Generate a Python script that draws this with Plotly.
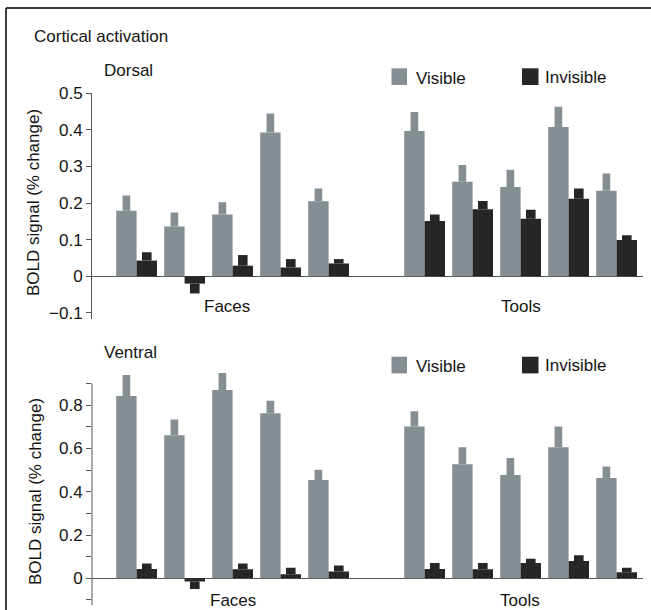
import plotly.graph_objects as go

# ---------------- data ----------------
groups = ["Faces", "Tools"]
subjects = ["S1", "S2", "S3", "S4", "S5"]
series_names = ["Visible", "Invisible"]

dorsal_faces_visible = [0.179, 0.136, 0.169, 0.393, 0.205]
dorsal_faces_visible_err = [0.042, 0.038, 0.033, 0.052, 0.035]
dorsal_faces_invisible = [0.043, -0.020, 0.029, 0.024, 0.035]
dorsal_faces_invisible_err = [0.023, 0.027, 0.029, 0.023, 0.012]
dorsal_tools_visible = [0.397, 0.258, 0.244, 0.408, 0.234]
dorsal_tools_visible_err = [0.052, 0.046, 0.047, 0.055, 0.047]
dorsal_tools_invisible = [0.151, 0.183, 0.157, 0.212, 0.099]
dorsal_tools_invisible_err = [0.018, 0.023, 0.025, 0.028, 0.013]

ventral_faces_visible = [0.842, 0.661, 0.870, 0.763, 0.454]
ventral_faces_visible_err = [0.097, 0.073, 0.078, 0.057, 0.048]
ventral_faces_invisible = [0.043, -0.015, 0.042, 0.019, 0.032]
ventral_faces_invisible_err = [0.025, 0.034, 0.026, 0.030, 0.027]
ventral_tools_visible = [0.701, 0.527, 0.477, 0.605, 0.463]
ventral_tools_visible_err = [0.071, 0.078, 0.079, 0.096, 0.054]
ventral_tools_invisible = [0.043, 0.042, 0.071, 0.080, 0.028]
ventral_tools_invisible_err = [0.028, 0.029, 0.019, 0.027, 0.021]

dorsal_ticks = [-0.1, 0, 0.1, 0.2, 0.3, 0.4, 0.5]
ventral_ticks = [-0.1, 0, 0.1, 0.2, 0.3, 0.4, 0.5, 0.6, 0.7, 0.8, 0.9]
ventral_labelled = [0, 0.2, 0.4, 0.6, 0.8]

# ---------------- styling ----------------
W, H = 651, 610
GRAY = "#858e93"
BLACK = "#262628"
AXC = "#555555"
FONT = "Liberation Sans, Arial, sans-serif"
FS = 17
TXT = "#141414"


def px(x):
    return x / W


def py(y):
    return 1 - y / H


# slot positions: faces 0..4, gap, tools 6..10
faces_slots = list(range(len(subjects)))
tools_slots = [len(subjects) + 1 + i for i in range(len(subjects))]
slots = faces_slots + tools_slots

BW = 0.425      # main bar width (in slot units)
EW_V = 0.16     # error tab width, visible
EW_I = 0.20     # error tab width, invisible

fig = go.Figure()


def add_panel(vis, vis_err, inv, inv_err, xa, ya):
    fig.add_trace(go.Bar(x=slots, y=vis, width=BW, offset=-BW,
                         marker=dict(color=GRAY, line=dict(width=0)),
                         name=series_names[0], showlegend=False, xaxis=xa, yaxis=ya))
    fig.add_trace(go.Bar(x=slots, y=inv, width=BW, offset=0,
                         marker=dict(color=BLACK, line=dict(width=0)),
                         name=series_names[1], showlegend=False, xaxis=xa, yaxis=ya))
    # error tabs drawn as narrow bars beyond the bar end
    fig.add_trace(go.Bar(x=slots, base=vis, y=[e if v >= 0 else -e for v, e in zip(vis, vis_err)],
                         width=EW_V, offset=-BW / 2 - EW_V / 2,
                         marker=dict(color=GRAY, line=dict(width=0)), showlegend=False,
                         hoverinfo="skip", xaxis=xa, yaxis=ya))
    fig.add_trace(go.Bar(x=slots, base=inv, y=[e if v >= 0 else -e for v, e in zip(inv, inv_err)],
                         width=EW_I, offset=BW / 2 - EW_I / 2,
                         marker=dict(color=BLACK, line=dict(width=0)), showlegend=False,
                         hoverinfo="skip", xaxis=xa, yaxis=ya))


add_panel(dorsal_faces_visible + dorsal_tools_visible,
          dorsal_faces_visible_err + dorsal_tools_visible_err,
          dorsal_faces_invisible + dorsal_tools_invisible,
          dorsal_faces_invisible_err + dorsal_tools_invisible_err, "x", "y")
add_panel(ventral_faces_visible + ventral_tools_visible,
          ventral_faces_visible_err + ventral_tools_visible_err,
          ventral_faces_invisible + ventral_tools_invisible,
          ventral_faces_invisible_err + ventral_tools_invisible_err, "x2", "y2")

xdom = [px(92), px(643)]
xrng = [-0.929, 10.55]
xcommon = dict(domain=xdom, range=xrng, showline=False, showgrid=False, zeroline=False,
               showticklabels=False, ticks="", automargin=False)


def fmt(v):
    s = f"{v:g}"
    return s.replace("-", "\u2212")


ycommon = dict(showgrid=False, zeroline=True, zerolinecolor=AXC, zerolinewidth=1,
               ticks="outside", ticklen=5, tickwidth=1, tickcolor=AXC, automargin=False,
               tickfont=dict(family=FONT, size=FS, color=TXT))

fig.update_layout(
    template="none",
    width=W, height=H,
    margin=dict(l=0, r=0, t=0, b=0, pad=0, autoexpand=False),
    paper_bgcolor="white", plot_bgcolor="white",
    barmode="overlay",
    font=dict(family=FONT, size=FS, color=TXT),
    xaxis=dict(anchor="y", **xcommon),
    xaxis2=dict(anchor="y2", **xcommon),
    yaxis=dict(anchor="x", domain=[py(319.1), py(93.3)], range=[-0.117, 0.5],
               tickvals=dorsal_ticks, ticktext=[fmt(v) for v in dorsal_ticks],
               showline=True, linecolor=AXC, linewidth=1, **ycommon),
    yaxis2=dict(anchor="x2", domain=[py(605.4), py(370.5)], range=[-0.125, 0.96],
                tickvals=ventral_ticks,
                ticktext=[fmt(v) if any(abs(v - l) < 1e-9 for l in ventral_labelled) else "" for v in ventral_ticks],
                showline=False, **ycommon),
)

shapes = [
    # frame
    dict(type="line", xref="paper", yref="paper", x0=px(6), x1=1, y0=py(8), y1=py(8),
         line=dict(color="black", width=1.5)),
    dict(type="line", xref="paper", yref="paper", x0=px(6), x1=px(6), y0=py(8), y1=0,
         line=dict(color="black", width=1.5)),
    # ventral y axis line (stops at 0.9)
    dict(type="line", xref="x2 domain", yref="y2", x0=0, x1=0, y0=-0.125, y1=ventral_ticks[-1],
         line=dict(color=AXC, width=1)),
]

annotations = []


def text(t, x, y, xanchor="left", size=FS, angle=0):
    annotations.append(dict(text=t, x=px(x), y=py(y), xref="paper", yref="paper", showarrow=False,
                            xanchor=xanchor, yanchor="middle", textangle=angle,
                            font=dict(family=FONT, size=size, color=TXT)))


text("Cortical activation", 32, 36)
text("Dorsal", 102, 70)
text("Ventral", 102, 352)

for top in (68.3, 356.7):
    shapes.append(dict(type="rect", xref="paper", yref="paper", x0=px(391.5), x1=px(407),
                       y0=py(top + 16.7), y1=py(top), fillcolor=GRAY, line=dict(width=0)))
    shapes.append(dict(type="rect", xref="paper", yref="paper", x0=px(522), x1=px(538.5),
                       y0=py(top + 16.7), y1=py(top), fillcolor=BLACK, line=dict(width=0)))
    text(series_names[0], 414, top + 10)
    text(series_names[1], 543, top + 9)

text(groups[0], 227, 306, xanchor="center")
text(groups[1], 521, 306, xanchor="center")
text(groups[0], 233, 600, xanchor="center")
text(groups[1], 520, 600, xanchor="center")

text("BOLD signal (% change)", 33, 203, xanchor="center", angle=-90)
text("BOLD signal (% change)", 35, 492, xanchor="center", angle=-90)

fig.update_layout(shapes=shapes, annotations=annotations)

fig.write_html("out.html", config={"displayModeBar": False},
               post_script="document.body.style.margin='0';document.body.style.overflow='hidden';")
